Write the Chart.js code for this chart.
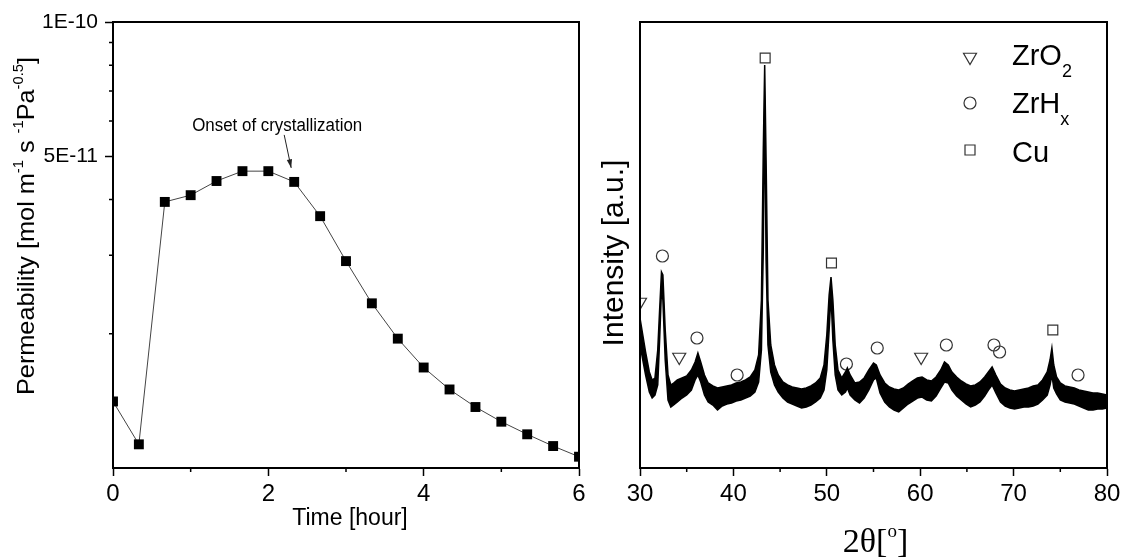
<!DOCTYPE html>
<html lang="en">
<head>
<meta charset="UTF-8">
<title>Permeability and XRD</title>
<script src="https://cdn.jsdelivr.net/npm/chart.js@4.4.1/dist/chart.umd.min.js"></script>
<style>
    body { margin: 0; background: #fff; }
    #wrap { position: relative; width: 1125px; height: 557px; overflow: hidden; }
    #left { position: absolute; left: 0; top: 0; }
    #right { position: absolute; left: 590px; top: 0; }
</style>
</head>
<body>
<div id="wrap">
    <canvas id="left" width="590" height="557"></canvas>
    <canvas id="right" width="535" height="557"></canvas>
</div>

<script>
    // ---- left panel: permeability vs time ----
    const hours = [0, 0.333, 0.667, 1, 1.333, 1.667, 2, 2.333, 2.667, 3, 3.333, 3.667, 4, 4.333, 4.667, 5, 5.333, 5.667, 6];
    const permeability = [1.41e-11, 1.13e-11, 3.95e-11, 4.09e-11, 4.40e-11, 4.63e-11, 4.63e-11, 4.38e-11, 3.67e-11,
        2.91e-11, 2.34e-11, 1.95e-11, 1.68e-11, 1.50e-11, 1.37e-11, 1.27e-11, 1.19e-11, 1.12e-11, 1.06e-11];
    const permTicks = [5e-11, 1e-10];
    const permMinor = [2e-11, 3e-11, 4e-11, 6e-11, 7e-11, 8e-11, 9e-11];
    const hourMinor = [1, 3, 5];

    // ---- right panel: XRD pattern (noise band read as upper / lower envelope) ----
    const twoTheta = [
        30.0, 30.3, 30.6, 31.0, 31.3, 31.6, 31.9, 32.1, 32.3, 32.45,
        32.7, 33.0, 33.3, 33.6, 34.0, 34.5, 35.0, 35.5, 35.9, 36.2,
        36.5, 36.9, 37.3, 37.8, 38.3, 38.8, 39.3, 39.8, 40.3, 40.8,
        41.3, 41.8, 42.3, 42.7, 43.0, 43.2, 43.35, 43.5, 43.7, 44.0,
        44.4, 44.8, 45.3, 45.8, 46.3, 46.8, 47.3, 47.8, 48.3, 48.8,
        49.3, 49.7, 50.0, 50.25, 50.45, 50.65, 50.9, 51.2, 51.6, 52.0,
        52.2, 52.5, 53.0, 53.5, 54.0, 54.5, 55.0, 55.3, 55.7, 56.2,
        56.7, 57.2, 57.7, 58.2, 58.7, 59.2, 59.7, 60.2, 60.7, 61.2,
        61.7, 62.2, 62.6, 63.0, 63.4, 63.9, 64.4, 64.9, 65.4, 65.9,
        66.4, 66.9, 67.3, 67.7, 68.1, 68.6, 69.1, 69.6, 70.1, 70.6,
        71.1, 71.6, 72.1, 72.6, 73.1, 73.6, 73.9, 74.1, 74.3, 74.6,
        75.0, 75.5, 76.0, 76.5, 77.0, 77.5, 78.0, 78.5, 79.0, 79.5,
        80.0];
    const xrdUpper = [
        150, 133, 116, 96, 88, 90, 118, 158, 196, 193,
        138, 93, 83, 85, 88, 90, 92, 98, 106, 115,
        106, 93, 85, 82, 80, 81, 82, 83, 85, 86,
        88, 91, 98, 113, 168, 318, 403, 308, 168, 123,
        103, 93, 86, 83, 81, 80, 79, 80, 82, 85,
        90, 103, 133, 173, 191, 168, 123, 98, 90, 96,
        100, 93, 85, 86, 90, 98, 105, 103, 93, 85,
        81, 79, 78, 80, 84, 87, 90, 91, 88, 87,
        91, 98, 106, 103, 96, 91, 87, 84, 82, 83,
        86, 91, 96, 101, 93, 84, 80, 78, 77, 78,
        79, 80, 82, 83, 88, 96, 108, 120, 103, 91,
        85, 82, 81, 80, 78, 77, 76, 75, 75, 74,
        73];
    const xrdLower = [
        123, 108, 93, 76, 70, 73, 83, 128, 178, 168,
        108, 68, 61, 63, 66, 70, 73, 78, 88, 93,
        86, 73, 66, 63, 58, 62, 64, 65, 67, 68,
        70, 72, 76, 86, 118, 218, 368, 208, 123, 96,
        83, 76, 70, 66, 64, 62, 60, 61, 63, 66,
        70, 78, 98, 138, 173, 128, 93, 78, 73, 76,
        80, 73, 68, 65, 70, 78, 88, 90, 75, 66,
        61, 58, 56, 60, 64, 67, 70, 71, 68, 67,
        72, 80, 86, 85, 78, 72, 68, 64, 61, 63,
        66, 72, 78, 83, 75, 66, 62, 60, 59, 60,
        61, 61, 62, 64, 68, 73, 83, 93, 80, 74,
        68, 66, 65, 64, 62, 60, 58, 58, 59, 59,
        60];
    const thetaMinor = [35, 45, 55, 65, 75];

    const zro2Pos = [30.0, 34.2, 60.1];
    const zro2Int = [166, 111, 111];
    const zrhPos = [32.4, 36.1, 40.4, 52.1, 55.4, 62.8, 67.9, 68.5, 76.9];
    const zrhInt = [212, 130, 93, 104, 120, 123, 123, 116, 93];
    const cuPos = [43.4, 50.5, 74.2];
    const cuInt = [410, 205, 138];

    const SANS = 'Arial, "Liberation Sans", sans-serif';
    const SERIF = '"Times New Roman", "Liberation Serif", serif';
    Chart.defaults.font.family = SANS;
    Chart.defaults.color = '#000';

    const pts = (xs, ys) => xs.map((x, i) => ({x: x, y: ys[i]}));

    // parts: [text, size, dy, family]
    function drawRich(ctx, parts, x, y, align, fitWidth) {
        let w = 0;
        parts.forEach(p => {
            ctx.font = p[1] + 'px ' + (p[3] || SANS);
            w += ctx.measureText(p[0]).width;
        });
        const sx = fitWidth ? fitWidth / w : 1;
        ctx.save();
        ctx.translate(x, y);
        ctx.scale(sx, 1);
        ctx.textAlign = 'left';
        ctx.textBaseline = 'alphabetic';
        ctx.fillStyle = '#000';
        let cx = align === 'center' ? -w / 2 : 0;
        parts.forEach(p => {
            ctx.font = p[1] + 'px ' + (p[3] || SANS);
            ctx.fillText(p[0], cx, p[2] || 0);
            cx += ctx.measureText(p[0]).width;
        });
        ctx.restore();
    }

    function drawRotated(ctx, parts, baseX, centerY, fitWidth) {
        ctx.save();
        ctx.translate(baseX, centerY);
        ctx.rotate(-Math.PI / 2);
        drawRich(ctx, parts, 0, 0, 'center', fitWidth);
        ctx.restore();
    }

    function minorTicks(ctx, scale, values, horizontal) {
        ctx.save();
        ctx.strokeStyle = '#000';
        ctx.lineWidth = 1.5;
        ctx.beginPath();
        values.forEach(v => {
            const p = scale.getPixelForValue(v);
            if (horizontal) {
                ctx.moveTo(p, scale.top);
                ctx.lineTo(p, scale.top + 4);
            } else {
                ctx.moveTo(scale.right, p);
                ctx.lineTo(scale.right - 4, p);
            }
        });
        ctx.stroke();
        ctx.restore();
    }

    function frame(ctx, a) {
        ctx.save();
        ctx.strokeStyle = '#000';
        ctx.lineWidth = 2;
        ctx.strokeRect(a.left, a.top, a.right - a.left, a.bottom - a.top);
        ctx.restore();
    }

    function marker(ctx, style, x, y) {
        ctx.save();
        ctx.strokeStyle = '#333';
        ctx.lineWidth = 1.2;
        ctx.beginPath();
        if (style === 'tri') {
            const r = 7.5;
            ctx.moveTo(x - r * 0.866, y - r / 2);
            ctx.lineTo(x + r * 0.866, y - r / 2);
            ctx.lineTo(x, y + r);
            ctx.closePath();
        } else if (style === 'circle') {
            ctx.arc(x, y, 6, 0, Math.PI * 2);
        } else {
            ctx.rect(x - 5, y - 5, 10, 10);
        }
        ctx.stroke();
        ctx.restore();
    }

    const axisGrid = {drawOnChartArea: false, color: '#000', tickLength: 8, tickWidth: 1.5};
    const axisBorder = {color: '#000', width: 2};

    // ---- left chart ----
    const leftDecor = {
        id: 'leftDecor',
        afterDraw(chart) {
            const ctx = chart.ctx;
            const xs = chart.scales.x, ys = chart.scales.y;
            frame(ctx, chart.chartArea);
            minorTicks(ctx, xs, hourMinor, true);
            minorTicks(ctx, ys, permMinor, false);

            // annotation pointing at the 2.33 h point
            const px = xs.getPixelForValue(hours[7]);
            const py = ys.getPixelForValue(permeability[7]);
            drawRich(ctx, [['Onset of crystallization', 18]], px - 17, py - 51, 'center', 170);
            const x0 = px - 10, y0 = py - 47, x1 = px - 3, y1 = py - 14;
            ctx.save();
            ctx.strokeStyle = '#222';
            ctx.fillStyle = '#222';
            ctx.lineWidth = 1;
            ctx.beginPath();
            ctx.moveTo(x0, y0);
            ctx.lineTo(x1, y1);
            ctx.stroke();
            const ang = Math.atan2(y1 - y0, x1 - x0);
            ctx.beginPath();
            ctx.moveTo(x1, y1);
            ctx.lineTo(x1 - 9 * Math.cos(ang - 0.3), y1 - 9 * Math.sin(ang - 0.3));
            ctx.lineTo(x1 - 9 * Math.cos(ang + 0.3), y1 - 9 * Math.sin(ang + 0.3));
            ctx.closePath();
            ctx.fill();
            ctx.restore();

            // axis titles
            drawRotated(ctx, [
                ['Permeability [mol m', 24], ['-1', 14, -11], [' s ', 24], ['-1', 14, -11],
                ['Pa', 24], ['-0.5', 14, -11], [']', 24]
            ], 34, 226, 338);
            drawRich(ctx, [['Time [hour]', 23]], (chart.chartArea.left + chart.chartArea.right) / 2 + 4, 525, 'center');
        }
    };

    new Chart(document.getElementById('left'), {
        type: 'line',
        data: {
            datasets: [{
                data: pts(hours, permeability),
                borderColor: '#444',
                borderWidth: 1,
                pointStyle: 'rect',
                pointRadius: 7,
                pointBackgroundColor: '#000',
                pointBorderColor: '#000',
                pointBorderWidth: 0,
                tension: 0,
                clip: 0
            }]
        },
        options: {
            responsive: false,
            animation: false,
            layout: {padding: {top: 22, right: 11, left: 0, bottom: 0}},
            plugins: {legend: {display: false}, tooltip: {enabled: false}},
            scales: {
                x: {
                    type: 'linear', min: 0, max: 6,
                    afterFit: s => { s.height = 89; },
                    ticks: {stepSize: 2, font: {size: 24}, padding: 4, maxRotation: 0},
                    grid: axisGrid, border: axisBorder
                },
                y: {
                    type: 'logarithmic', min: 1e-11, max: 1e-10,
                    afterFit: s => { s.width = 113; },
                    afterBuildTicks: s => { s.ticks = permTicks.map(v => ({value: v})); },
                    ticks: {font: {size: 21}, padding: 7, callback: v => v > 7e-11 ? '1E-10' : '5E-11'},
                    grid: axisGrid, border: axisBorder
                }
            }
        },
        plugins: [leftDecor]
    });

    // ---- right chart ----
    const rightDecor = {
        id: 'rightDecor',
        afterDraw(chart) {
            const ctx = chart.ctx;
            const a = chart.chartArea;
            frame(ctx, a);
            minorTicks(ctx, chart.scales.x, thetaMinor, true);

            // legend
            marker(ctx, 'tri', 380, 57);
            marker(ctx, 'circle', 380, 103);
            marker(ctx, 'rect', 380, 150);
            drawRich(ctx, [['ZrO', 29], ['2', 18, 12]], 422, 65, 'left');
            drawRich(ctx, [['ZrH', 29], ['x', 18, 12]], 422, 113, 'left');
            drawRich(ctx, [['Cu', 29]], 422, 162, 'left');

            // axis titles
            drawRotated(ctx, [['Intensity [a.u.]', 30]], 33, 253);
            drawRich(ctx, [['2θ[', 34, 0, SERIF], ['o', 19, -15, SERIF], [']', 34, 0, SERIF]],
                (a.left + a.right) / 2 + 2, 552, 'center');
        }
    };

    const openMarker = (style, rot) => ({
        type: 'scatter',
        pointStyle: style,
        pointRotation: rot,
        pointBackgroundColor: 'rgba(0,0,0,0)',
        pointBorderColor: '#333',
        pointBorderWidth: 1.2,
        clip: 0
    });

    new Chart(document.getElementById('right'), {
        type: 'line',
        data: {
            datasets: [
                {
                    data: pts(twoTheta, xrdUpper),
                    borderColor: '#000', borderWidth: 1.5, pointRadius: 0,
                    fill: '+1', backgroundColor: '#000', tension: 0, clip: 0
                },
                {
                    data: pts(twoTheta, xrdLower),
                    borderColor: '#000', borderWidth: 1.5, pointRadius: 0,
                    fill: false, tension: 0, clip: 0
                },
                Object.assign(openMarker('triangle', 180), {data: pts(zro2Pos, zro2Int), pointRadius: 7.5}),
                Object.assign(openMarker('circle', 0), {data: pts(zrhPos, zrhInt), pointRadius: 6}),
                Object.assign(openMarker('rect', 0), {data: pts(cuPos, cuInt), pointRadius: 7})
            ]
        },
        options: {
            responsive: false,
            animation: false,
            layout: {padding: {top: 22, right: 18, left: 0, bottom: 0}},
            plugins: {legend: {display: false}, tooltip: {enabled: false}},
            scales: {
                x: {
                    type: 'linear', min: 30, max: 80,
                    afterFit: s => { s.height = 89; },
                    ticks: {stepSize: 10, font: {size: 24}, padding: 4, maxRotation: 0},
                    grid: axisGrid, border: axisBorder
                },
                y: {
                    min: 0, max: 446,
                    afterFit: s => { s.width = 50; },
                    ticks: {display: false},
                    grid: {display: false, drawTicks: false},
                    border: axisBorder
                }
            }
        },
        plugins: [rightDecor]
    });
</script>
</body>
</html>
